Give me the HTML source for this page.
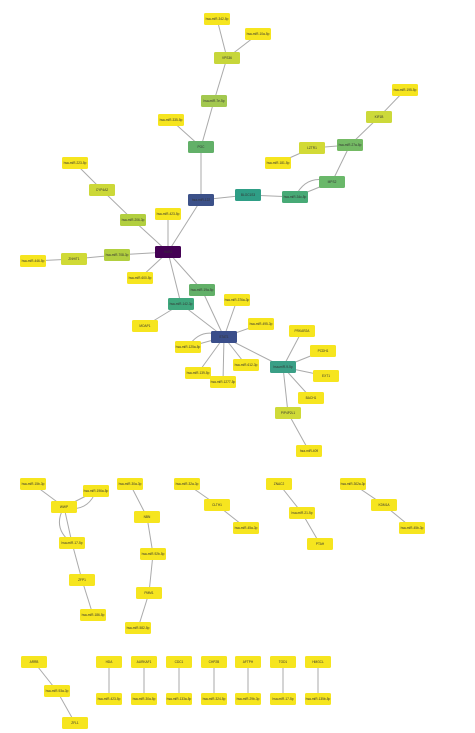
<!DOCTYPE html>
<html><head><meta charset="utf-8"><style>
html,body{margin:0;padding:0;background:#fff;width:475px;height:733px;overflow:hidden}
svg{display:block}
</style></head><body>
<svg id="net" width="475" height="733" viewBox="0 0 475 733" xmlns="http://www.w3.org/2000/svg">
<g id="edges"></g>
<g id="nodes"></g>
</svg>
<script>
const nodeIds=["m342","VPS36","mTR","m7e","m335","POC","m122","CYP4A","m223","m206","m423","HUB","m708","ZNHIT1","m446","m600","BLOC1S3","m34c","MPS2","m27a","LZTR1","m181","KIF1B","m195","m19a","m142","MOAP","m376","m495","STAT1","m125","m612","m139","m1277","m9","PRKAR","PCDH1","EXT1","BACH1","PIP4P","m409",
"b1","b2","WWP","b3","ZFP1","b4","b5","NBN","b6","PMM1","b7","b8","CLTH1","b9","ZNAC","b10","PTAH","b11","KDM1A","b12","ARRB","b13","ZFL1","HDA","c1","AURK","c2","CDC1","c3","CHP2","c4","AFTPH","c5","TOD1","c6","HMGCL","c7"];
const nodeLabels=["hsa-miR-342-5p","VPS36","hsa-miR-10a-5p","hsa-miR-7e-5p","hsa-miR-335-5p","POC","hsa-miR-122","CYP4A2","hsa-miR-223-5p","hsa-miR-206-3p","hsa-miR-423-5p","HUB1","hsa-miR-708-3p","ZNHIT1","hsa-miR-446-5p","hsa-miR-600-5p","BLOC1S3","hsa-miR-34c-5p","MPS2","hsa-miR-27a-5p","LZTR1","hsa-miR-181-5p","KIF1B","hsa-miR-195-5p","hsa-miR-19a-5p","hsa-miR-142-3p","MOAP1","hsa-miR-376a-3p","hsa-miR-495-3p","STAT1","hsa-miR-125a-5p","hsa-miR-612-3p","hsa-miR-139-5p","hsa-miR-1277-5p","hsa-miR-9-5p","PRKAR2A","PCDH1","EXT1","BACH1","PIP4P2L1","hsa-miR-409",
"hsa-miR-15b-3p","hsa-miR-196a-5p","WWP","hsa-miR-17-5p","ZFP1","hsa-miR-186-5p","hsa-miR-30a-3p","NBN","hsa-miR-92b-5p","PMM1","hsa-miR-582-5p","hsa-miR-32a-3p","CLTH1","hsa-miR-45a-3p","ZNAC2","hsa-miR-21-5p","PTAH","hsa-miR-302a-3p","KDM1A","hsa-miR-45b-3p","ARRB","hsa-miR-93a-3p","ZFL1","HDA","hsa-miR-423-5p","AURKAF1","hsa-miR-30a-5p","CDC1","hsa-miR-133a-5p","CHP2B","hsa-miR-324-5p","AFTPH","hsa-miR-29b-3p","TOD1","hsa-miR-17-5p","HMGCL","hsa-miR-135b-5p"];
const nodeX=[217,227,258,214,171,201,201,102,75,133,168,168,117,74,33,140,248,295,332,350,312,278,379,405,202,181,145,237,261,224,188,246,198,223,283,302,323,326,311,288,309,
33,96,64,72,82,93,130,147,153,149,138,187,217,246,279,302,320,353,384,412,34,57,75,109,109,144,144,179,179,214,214,248,248,283,283,318,318];
const nodeY=[19,58,34,101,120,147,200,190,163,220,214,252,255,259,261,278,195,197,182,145,148,163,117,90,290,304,326,300,324,337,347,365,373,382,367,331,351,376,398,413,451,
484,491,507,543,580,615,484,517,554,593,628,484,505,528,484,513,544,484,505,528,662,691,723,662,699,662,699,662,699,662,699,662,699,662,699,662,699];
const nodeColor=["#f6e51f","#c7d63a","#f6e51f","#a3c84f","#f6e51f","#62b068","#3c5189","#ccd838","#f6e51f","#b2cf3f","#f6e51f","#440154","#b2cf3f","#d0da36","#f6e51f","#f6e51f","#2f9e86","#47aa76","#6ab86a","#74ba64","#d2da36","#f6e51f","#ccd93a","#f6e51f","#62b068","#3fa77d","#f6e51f","#f6e51f","#f6e51f","#3a4e8a","#f6e51f","#f6e51f","#f6e51f","#f6e51f","#3a9f86","#f6e51f","#f6e51f","#f6e51f","#f6e51f","#cfda38","#f6e51f"];
const edgeFrom=["m342","VPS36","VPS36","m7e","m335","POC","m122","m122","BLOC1S3","m34c","MPS2","m27a","LZTR1","m27a","KIF1B","HUB","HUB","HUB","HUB","HUB","HUB","m206","CYP4A","m708","ZNHIT1","m19a","m142","m142","STAT1","STAT1","STAT1","STAT1","STAT1","STAT1","STAT1","m9","m9","m9","m9","m9","PIP4P",
"b1","b2","WWP","b3","ZFP1","b5","NBN","b6","PMM1","b8","CLTH1","ZNAC","b10","b11","KDM1A","ARRB","b13","HDA","AURK","CDC1","CHP2","AFTPH","TOD1","HMGCL"];
const edgeTo=["VPS36","mTR","m7e","POC","POC","m122","HUB","BLOC1S3","m34c","MPS2","m27a","LZTR1","m181","KIF1B","m195","m423","m206","m708","m600","m19a","m142","CYP4A","m223","ZNHIT1","m446","STAT1","STAT1","MOAP","m376","m495","m125","m612","m139","m1277","m9","PRKAR","PCDH1","EXT1","BACH1","PIP4P","m409",
"WWP","WWP","b3","ZFP1","b4","NBN","b6","PMM1","b7","CLTH1","b9","b10","PTAH","KDM1A","b12","b13","ZFL1","c1","c2","c3","c4","c5","c6","c7"];
const curvedFrom=["m34c","m125","b2","b3"];
const curvedTo=["MPS2","STAT1","WWP","WWP"];
</script>
<script>
const NS="http://www.w3.org/2000/svg";
const eg=document.getElementById('edges'), ng=document.getElementById('nodes');
function pos(id){const i=nodeIds.indexOf(id);return [nodeX[i],nodeY[i]];}
for(let k=0;k<edgeFrom.length;k++){
  const a=pos(edgeFrom[k]),b=pos(edgeTo[k]);
  const l=document.createElementNS(NS,'line');
  l.setAttribute('x1',a[0]);l.setAttribute('y1',a[1]);l.setAttribute('x2',b[0]);l.setAttribute('y2',b[1]);
  l.setAttribute('stroke','#aaaaaa');l.setAttribute('stroke-width','1');
  
  
  eg.appendChild(l);
}
for(let k=0;k<curvedFrom.length;k++){
  const a=pos(curvedFrom[k]),b=pos(curvedTo[k]);
  const mx=(a[0]+b[0])/2,my=(a[1]+b[1])/2,dx=b[0]-a[0],dy=b[1]-a[1];
  const cx=mx+dy*0.45,cy=my-dx*0.45;
  const p=document.createElementNS(NS,'path');
  p.setAttribute('d','M'+a[0]+','+a[1]+' Q'+cx+','+cy+' '+b[0]+','+b[1]);
  p.setAttribute('fill','none');p.setAttribute('stroke','#aaaaaa');p.setAttribute('stroke-width','1');
  
  
  eg.appendChild(p);
}
for(let i=0;i<nodeIds.length;i++){
  const g=document.createElementNS(NS,'g');
  
  
  const r=document.createElementNS(NS,'rect');
  r.setAttribute('x',nodeX[i]-13);r.setAttribute('y',nodeY[i]-6);r.setAttribute('width',26);r.setAttribute('height',12);
  r.setAttribute('rx',1.5);r.setAttribute('fill',nodeColor[i]||'#f6e51f');
  g.appendChild(r);
  const t=document.createElementNS(NS,'text');
  t.setAttribute('x',nodeX[i]);t.setAttribute('y',nodeY[i]+1.2);t.setAttribute('text-anchor','middle');
  t.setAttribute('font-family','Liberation Sans, sans-serif');t.setAttribute('font-size','3.2');
  t.setAttribute('fill', '#333');
  t.textContent=nodeLabels[i];
  g.appendChild(t);
  ng.appendChild(g);
}
</script>
</body></html>
